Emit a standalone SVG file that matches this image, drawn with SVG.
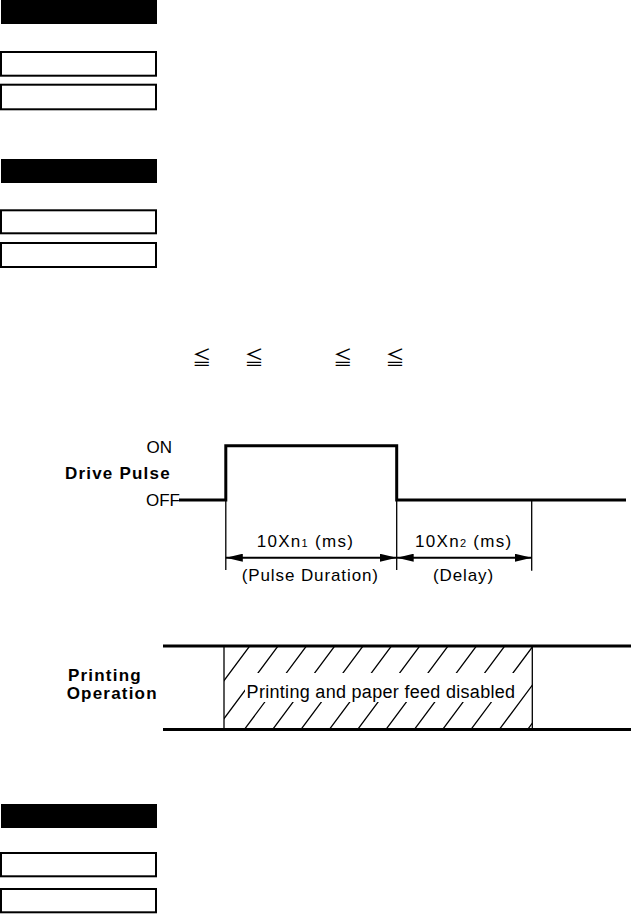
<svg xmlns="http://www.w3.org/2000/svg" width="631" height="914" viewBox="0 0 631 914">
<style>
.blk{fill:#000}
.box{fill:#fff;stroke:#000;stroke-width:2}
.t{font-family:"Liberation Sans",Arial,sans-serif;fill:#000}
.b{font-weight:bold;letter-spacing:1.2px;font-size:17px}
.sig{fill:none;stroke:#000;stroke-width:3}
.thin{fill:none;stroke:#000;stroke-width:1.3}
.dim{fill:none;stroke:#000;stroke-width:2}
.leq{font-family:"Noto Sans CJK JP","DejaVu Sans",sans-serif;font-size:19px;fill:#000}
</style>
<defs>
<marker id="ah" viewBox="0 0 17 8" refX="17" refY="4" markerWidth="17" markerHeight="8" markerUnits="userSpaceOnUse" orient="auto-start-reverse">
<path d="M0,0 L17,4 L0,8 Z" fill="#000"/>
</marker>
<clipPath id="hc"><rect x="224" y="646" width="308.5" height="84"/></clipPath>
</defs>
<rect width="631" height="914" fill="#fff"/>

<g id="header1"><rect class="blk" x="1" y="0" width="156" height="24"/></g>
<g id="box1a"><rect class="box" x="1" y="52" width="155" height="23.7"/></g>
<g id="box1b"><rect class="box" x="1" y="84.7" width="155" height="24.6"/></g>

<g id="header2"><rect class="blk" x="1" y="159" width="156" height="24"/></g>
<g id="box2a"><rect class="box" x="1" y="210.3" width="155" height="23"/></g>
<g id="box2b"><rect class="box" x="1" y="243" width="155" height="24"/></g>

<g id="leq-symbols">
<text class="leq" x="201.7" y="365" text-anchor="middle">≦</text>
<text class="leq" x="254" y="365" text-anchor="middle">≦</text>
<text class="leq" x="342.7" y="365" text-anchor="middle">≦</text>
<text class="leq" x="395" y="365" text-anchor="middle">≦</text>
</g>

<g id="drive-pulse">
<text class="t" x="146.5" y="453" font-size="17">ON</text>
<text class="t b" x="65" y="478.5">Drive Pulse</text>
<text class="t" x="146" y="506" font-size="17">OFF</text>
<path class="sig" d="M179,500 H225.8 V445.8 H396.7 V500 H626"/>
</g>

<g id="connectors">
<path class="thin" d="M225.8,500 V570 M396.7,500 V570 M531.7,500 V570.7"/>
<line class="dim" x1="225.8" y1="557.7" x2="396.7" y2="557.7" marker-start="url(#ah)" marker-end="url(#ah)"/>
<line class="dim" x1="396.7" y1="557.7" x2="531.7" y2="557.7" marker-start="url(#ah)" marker-end="url(#ah)"/>
</g>

<g id="dim-labels">
<text class="t" x="256.7" y="547" font-size="17" letter-spacing="1.3">10Xn<tspan font-size="11">1</tspan> (ms)</text>
<text class="t" x="241.7" y="581" font-size="17" letter-spacing="0.9">(Pulse Duration)</text>
<text class="t" x="415" y="547" font-size="17" letter-spacing="1.3">10Xn<tspan font-size="11">2</tspan> (ms)</text>
<text class="t" x="433" y="581" font-size="17" letter-spacing="0.9">(Delay)</text>
</g>

<g id="printing-operation">
<text class="t b" x="68" y="681">Printing</text>
<text class="t b" x="66.7" y="699">Operation</text>
<g clip-path="url(#hc)">
<path class="thin" stroke-width="1.2" d="M225.9,640 L154.5,736 M254.2,640 L182.8,736 M282.5,640 L211.1,736 M310.9,640 L239.5,736 M339.2,640 L267.8,736 M367.5,640 L296.1,736 M395.9,640 L324.5,736 M424.2,640 L352.8,736 M452.5,640 L381.1,736 M480.9,640 L409.5,736 M509.2,640 L437.8,736 M537.5,640 L466.1,736 M565.9,640 L494.5,736 M594.2,640 L522.8,736 M622.5,640 L551.1,736"/>
</g>
<rect x="245" y="673" width="274" height="29" fill="#fff"/>
<text class="t" x="381" y="698" font-size="18" letter-spacing="0.3" text-anchor="middle">Printing and paper feed disabled</text>
<path class="thin" stroke-width="1.6" d="M224,646 V730 M532.3,646 V730"/>
<path class="sig" stroke-width="2.5" d="M163,646 H631 M163,729.5 H631"/>
</g>

<g id="header3"><rect class="blk" x="1" y="804" width="156" height="24"/></g>
<g id="box3a"><rect class="box" x="1" y="853" width="155" height="23.3"/></g>
<g id="box3b"><rect class="box" x="1" y="889" width="155" height="23.3"/></g>
</svg>
